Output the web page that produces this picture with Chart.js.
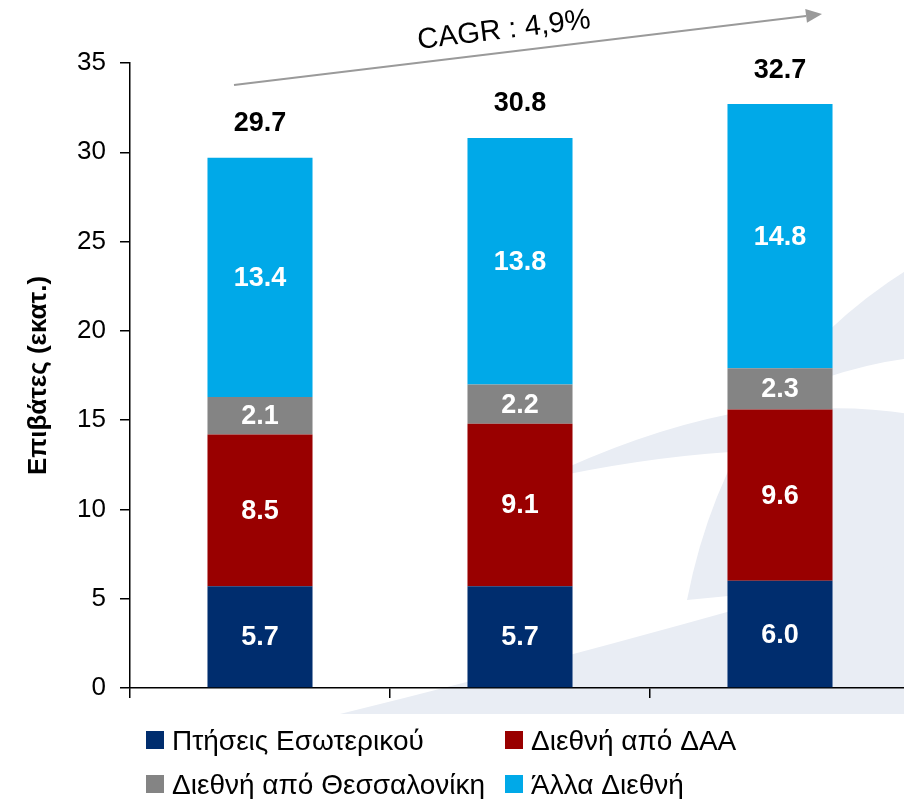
<!DOCTYPE html>
<html><head><meta charset="utf-8">
<script src="https://cdn.jsdelivr.net/npm/chart.js@4/dist/chart.umd.min.js"></script>
<style>
html,body{margin:0;padding:0;overflow:hidden;background:#fff;width:904px;height:799px}
#wrap{position:absolute;left:0;top:0;width:910px;height:799px}
</style>
</head><body><div id="wrap"><canvas id="c" width="910" height="799"></canvas></div>
<script>
const categories = ['Έτος 1', 'Έτος 2', 'Έτος 3'];
const seriesNames = ['Πτήσεις Εσωτερικού', 'Διεθνή από ΔΑΑ', 'Διεθνή από Θεσσαλονίκη', 'Άλλα Διεθνή'];
const domestic = [5.7, 5.7, 6.0];
const intlAthens = [8.5, 9.1, 9.6];
const intlThessaloniki = [2.1, 2.2, 2.3];
const otherIntl = [13.4, 13.8, 14.8];
const totals = [29.7, 30.8, 32.7];
const yTicks = [0, 5, 10, 15, 20, 25, 30, 35];
const yTitle = 'Επιβάτες (εκατ.)';
const cagrText = 'CAGR : 4,9%';

const colors = ['#002D6E', '#990000', '#848484', '#00A9E8'];
const FONT = "'Liberation Sans', Arial, sans-serif";

const decor = {
  id: 'decor',
  beforeDraw(chart) {
    const ctx = chart.ctx;
    ctx.save();
    ctx.fillStyle = '#fff';
    ctx.fillRect(0, 0, chart.width, chart.height);
    ctx.fillStyle = '#E9EDF4';
    // faint background logo swooshes
    ctx.beginPath();
    ctx.moveTo(540, 480); ctx.quadraticCurveTo(640, 432, 730, 414);
    ctx.lineTo(730, 452); ctx.quadraticCurveTo(640, 458, 540, 480); ctx.closePath(); ctx.fill();
    ctx.beginPath();
    ctx.moveTo(687, 600); ctx.quadraticCurveTo(730, 380, 910, 268);
    ctx.lineTo(910, 590); ctx.quadraticCurveTo(800, 588, 687, 600); ctx.closePath(); ctx.fill();
    ctx.beginPath();
    ctx.moveTo(340, 714); ctx.quadraticCurveTo(600, 650, 910, 560);
    ctx.lineTo(910, 714); ctx.closePath(); ctx.fill();
    ctx.fillStyle = '#fff';
    ctx.beginPath();
    ctx.moveTo(730, 420); ctx.quadraticCurveTo(820, 370, 910, 358);
    ctx.lineTo(910, 414); ctx.quadraticCurveTo(820, 400, 730, 420); ctx.closePath(); ctx.fill();
    ctx.restore();
  },
  afterDatasetsDraw(chart) {
    const ctx = chart.ctx;
    ctx.save();
    ctx.textAlign = 'center';
    ctx.textBaseline = 'middle';
    ctx.font = 'bold 27px ' + FONT;
    ctx.fillStyle = '#fff';
    chart.data.datasets.forEach((ds, di) => {
      const meta = chart.getDatasetMeta(di);
      meta.data.forEach((el, i) => {
        const p = el.getProps(['x', 'y', 'base'], true);
        ctx.fillText(ds.data[i].toFixed(1), p.x, (p.y + p.base) / 2 + 1);
      });
    });
    const topMeta = chart.getDatasetMeta(chart.data.datasets.length - 1);
    ctx.fillStyle = '#000';
    topMeta.data.forEach((el, i) => {
      const p = el.getProps(['x', 'y'], true);
      ctx.fillText(totals[i].toFixed(1), p.x, p.y - 34);
    });
    // CAGR arrow
    const xs = chart.scales.x, area = chart.chartArea;
    const x0 = xs.getPixelForValue(0) - 26, y0 = area.top + 22;
    const x1 = xs.getPixelForValue(2) + 42, y1 = area.top - 49;
    const ang = Math.atan2(y1 - y0, x1 - x0);
    const hl = 16, hw = 7;
    const bx = x1 - hl * Math.cos(ang), by = y1 - hl * Math.sin(ang);
    ctx.strokeStyle = '#9A9A9A';
    ctx.fillStyle = '#9A9A9A';
    ctx.lineWidth = 2;
    ctx.beginPath(); ctx.moveTo(x0, y0); ctx.lineTo(bx, by); ctx.stroke();
    ctx.beginPath();
    ctx.moveTo(x1, y1);
    ctx.lineTo(bx + hw * Math.sin(ang), by - hw * Math.cos(ang));
    ctx.lineTo(bx - hw * Math.sin(ang), by + hw * Math.cos(ang));
    ctx.closePath(); ctx.fill();
    ctx.translate((x0 + x1) / 2 - 24, (y0 + y1) / 2 - 19);
    ctx.rotate(ang);
    ctx.fillStyle = '#000';
    ctx.font = '29px ' + FONT;
    ctx.fillText(cagrText, 0, 0);
    ctx.restore();
  },
  afterDraw(chart) {
    const ctx = chart.ctx;
    ctx.save();
    ctx.font = '28px ' + FONT;
    ctx.textBaseline = 'alphabetic';
    ctx.textAlign = 'left';
    const colX = [146, 505], rowY = [731, 775], box = 18;
    chart.data.datasets.forEach((ds, i) => {
      const x = colX[i % 2], y = rowY[Math.floor(i / 2)];
      ctx.fillStyle = ds.backgroundColor;
      ctx.fillRect(x, y, box, box);
      ctx.fillStyle = '#000';
      ctx.fillText(ds.label, x + box + 8, y + box + 1);
    });
    ctx.restore();
  }
};

new Chart(document.getElementById('c'), {
  type: 'bar',
  data: {
    labels: categories,
    datasets: [domestic, intlAthens, intlThessaloniki, otherIntl].map((d, i) => ({
      label: seriesNames[i],
      data: d,
      backgroundColor: colors[i],
      borderWidth: 0,
      barPercentage: 0.404,
      categoryPercentage: 1.0
    }))
  },
  options: {
    responsive: false,
    animation: false,
    devicePixelRatio: 1,
    layout: { padding: { top: 63, right: 0, bottom: 101, left: 0 } },
    plugins: { legend: { display: false }, tooltip: { enabled: false } },
    scales: {
      x: {
        stacked: true,
        offset: true,
        ticks: { display: false },
        grid: { display: true, offset: true, drawOnChartArea: false, drawTicks: true, tickLength: 10, color: '#000', lineWidth: 1.5 },
        border: { display: true, color: '#000', width: 1.5 }
      },
      y: {
        stacked: true,
        min: 0, max: 35,
        afterBuildTicks: s => { s.ticks = yTicks.map(v => ({ value: v })); },
        afterFit: s => { s.width = 130; },
        ticks: { font: { family: FONT, size: 26 }, color: '#000', padding: 14 },
        grid: { drawOnChartArea: false, drawTicks: true, tickLength: 10, color: '#000', lineWidth: 1.5 },
        border: { display: true, color: '#000', width: 1.5 },
        title: { display: true, text: yTitle, color: '#000', font: { family: FONT, size: 26, weight: 'bold' }, padding: { top: 23, bottom: 0 } }
      }
    }
  },
  plugins: [decor]
});
</script>
</body></html>
